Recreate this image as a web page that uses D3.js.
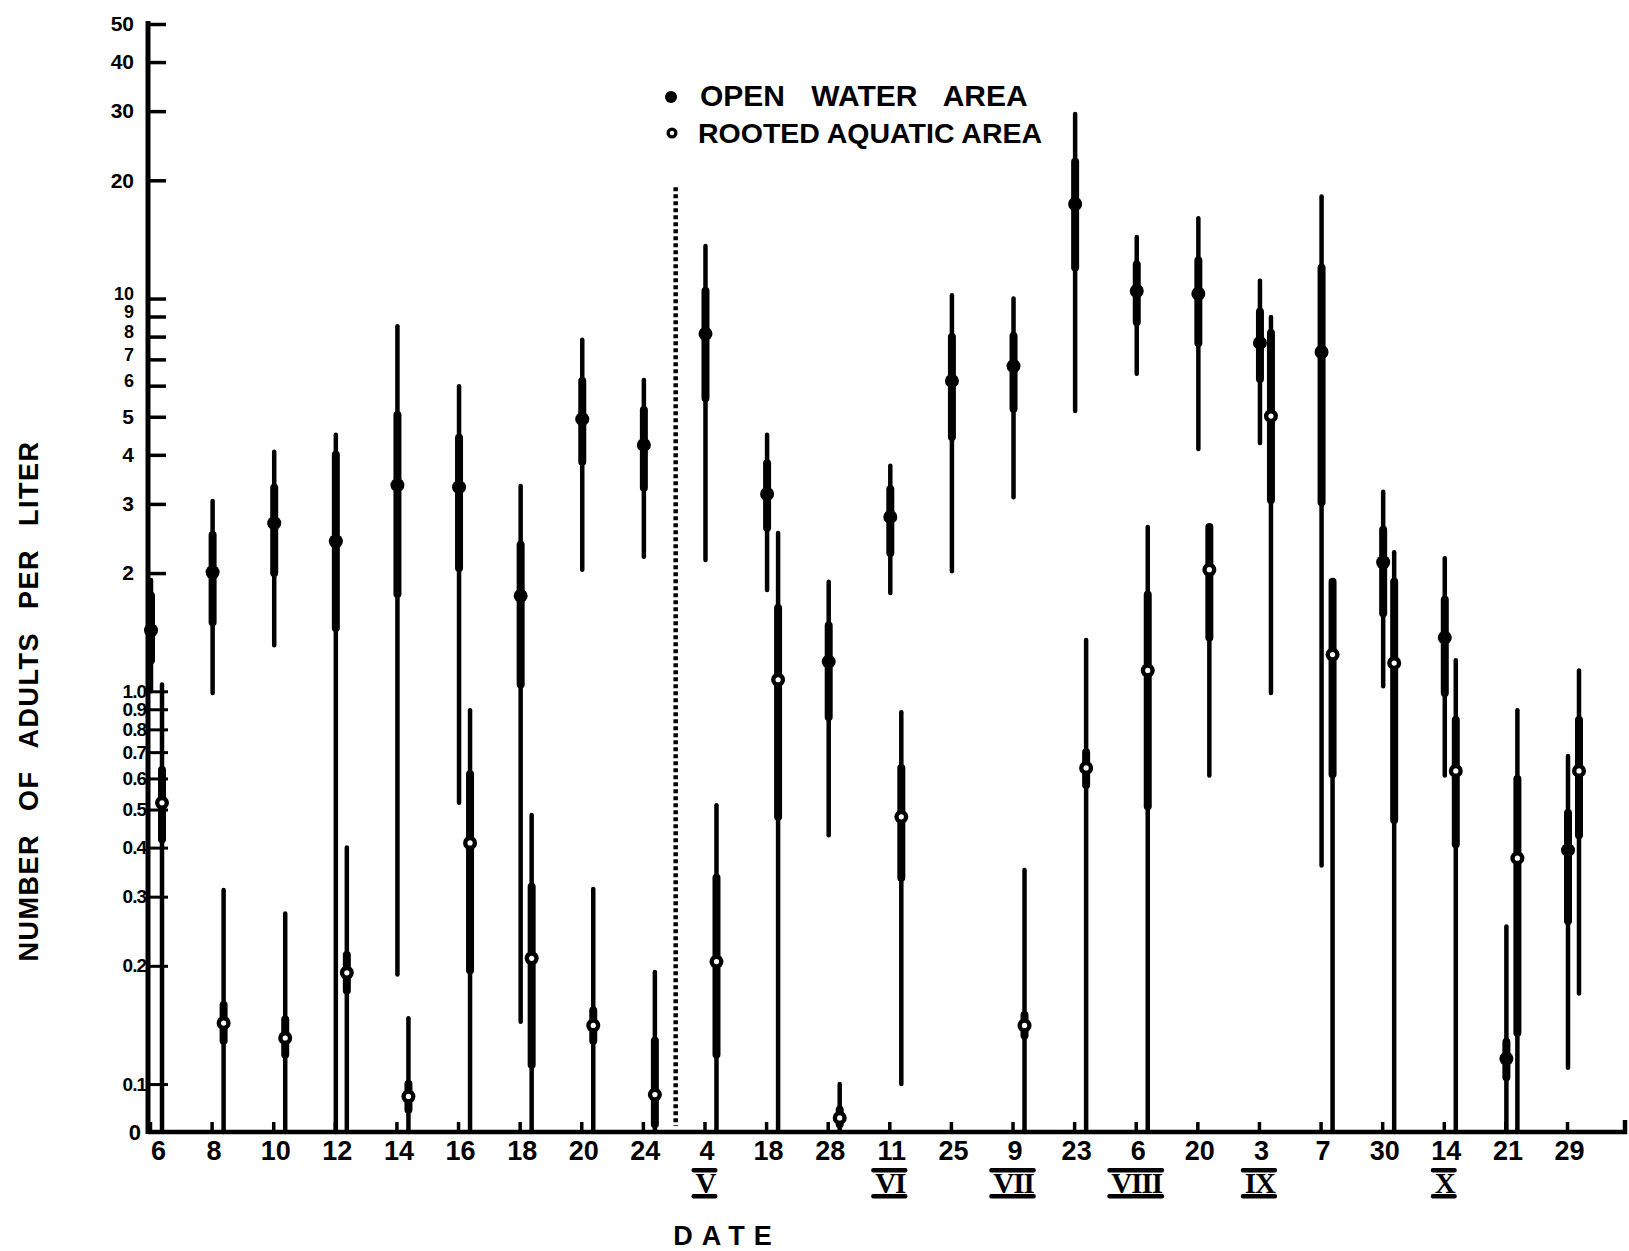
<!DOCTYPE html>
<html>
<head>
<meta charset="utf-8">
<script src="https://cdn.jsdelivr.net/npm/d3@7"></script>
<style>
  body { margin: 0; background: #fff; }
  svg { display: block; font-family: "Liberation Sans", Arial, sans-serif; font-weight: bold; }
</style>
</head>
<body>
<div id="chart"></div>
<script>
// Data
const dates = ['6', '8', '10', '12', '14', '16', '18', '20', '24', '4', '18', '28',
  '11', '25', '9', '23', '6', '20', '3', '7', '30', '14', '21', '29']
const monthLabels = ['V', 'VI', 'VII', 'VIII', 'IX', 'X']
const monthAt = [9, 12, 14, 16, 18, 21] // index of the date the month numeral sits under

// open water area (filled dots): mean, range, inner (heavy) band
const openMean = [1.43, 2.01, 2.68, 2.41, 3.35, 3.31, 1.75, 4.93, 4.24, 8.13, 3.18, 1.19,
  2.78, 6.17, 6.73, 17.4, 10.45, 10.28, 7.71, 7.31, 2.13, 1.37, 0.116, 0.394]
const openLow = [1.0, 0.99, 1.31, 0, 0.19, 0.52, 0.144, 2.04, 2.2, 2.16, 1.81, 0.43,
  1.78, 2.02, 3.12, 5.17, 6.43, 4.14, 4.29, 0.36, 1.03, 0.61, 0, 0.11]
const openHigh = [1.92, 3.05, 4.07, 4.5, 8.5, 5.98, 3.33, 7.85, 6.2, 13.6, 4.5, 1.9,
  3.75, 10.2, 10.0, 29.5, 14.35, 16.0, 11.1, 18.2, 3.22, 2.18, 0.252, 0.684]
const openBandLow = [1.2, 1.5, 2.0, 1.45, 1.77, 2.06, 1.04, 3.84, 3.3, 5.58, 2.61, 0.86,
  2.25, 4.44, 5.24, 12.0, 8.71, 7.71, 6.24, 3.03, 1.58, 0.99, 0.104, 0.26]
const openBandHigh = [1.75, 2.5, 3.3, 4.0, 5.05, 4.42, 2.36, 6.17, 5.2, 10.45, 3.81, 1.47,
  3.27, 7.98, 8.03, 22.3, 12.2, 12.5, 9.25, 11.97, 2.58, 1.71, 0.128, 0.49]

// rooted aquatic area (open dots); 0 = down to the zero line, null = no sample
const rootedMean = [0.52, 0.143, 0.131, 0.192, 0.093, 0.411, 0.209, 0.141, 0.094, 0.205, 1.07, 0.082,
  0.479, null, 0.141, 0.638, 1.13, 2.04, 5.02, 1.24, 1.18, 0.627, 0.376, 0.627]
const rootedLow = [0, 0, 0, 0, 0, 0, 0, 0, 0, 0, 0, 0,
  0.1, null, 0, 0, 0, 0.61, 0.99, 0, 0, 0, 0, 0.17]
const rootedHigh = [1.04, 0.312, 0.272, 0.40, 0.147, 0.895, 0.484, 0.314, 0.193, 0.513, 2.53, 0.1,
  0.885, null, 0.351, 1.35, 2.62, 2.62, 8.98, 1.9, 2.26, 1.2, 0.895, 1.13]
const rootedBandLow = [0.42, 0.129, 0.119, 0.173, 0.086, 0.195, 0.112, 0.129, 0.079, 0.119, 0.479, 0.079,
  0.335, null, 0.133, 0.577, 0.51, 1.37, 3.07, 0.615, 0.47, 0.408, 0.135, 0.43]
const rootedBandHigh = [0.63, 0.159, 0.146, 0.213, 0.1, 0.615, 0.318, 0.154, 0.129, 0.335, 1.63, 0.086,
  0.638, null, 0.15, 0.70, 1.76, 2.62, 8.17, 1.9, 1.9, 0.845, 0.598, 0.845]

const upperTicks = [2, 3, 4, 5, 6, 7, 8, 9, 10, 20, 30, 40, 50]
const lowerTicks = [0.1, 0.2, 0.3, 0.4, 0.5, 0.6, 0.7, 0.8, 0.9, 1.0]
const zeroLine = 0.0755 // log value that the "0" baseline stands for
const dividerTop = 19.2 // top of the dotted line between April and May

function draw() {
  let dimensions = {
    width: 1629,
    height: 1251,
    left: 148,
    right: 1625,
    top: 24,
    bottom: 1132,
    firstDate: 150,
    lastDate: 1567,
  }

  const svg = d3.select('#chart')
    .append('svg')
    .attr('width', dimensions.width)
    .attr('height', dimensions.height)

  // Scales
  const y = d3.scaleLog()
    .domain([zeroLine, 50])
    .range([dimensions.bottom, dimensions.top])
  const yv = v => y(v > 0 ? v : zeroLine)

  const x = d3.scalePoint()
    .domain(d3.range(dates.length))
    .range([dimensions.firstDate, dimensions.lastDate])

  // Y axis: upper cycle
  const upperAxis = d3.axisLeft(y)
    .tickValues(upperTicks)
    .tickSizeInner(-18)
    .tickSizeOuter(0)
    .tickPadding(14)
    .tickFormat(d3.format('d'))

  const yAxisG = svg.append('g')
    .attr('transform', `translate(${dimensions.left}, 0)`)
    .call(upperAxis)
  yAxisG.select('.domain').remove()
  yAxisG.selectAll('line').attr('stroke', '#000').attr('stroke-width', 3.5)
  yAxisG.selectAll('text')
    .attr('fill', '#000')
    .attr('dy', d => d >= 6 && d <= 10 ? '0.05em' : '0.32em')
    .style('font-size', d => d >= 6 && d <= 10 ? '18px' : '21px')

  // Y axis: lower cycle with the zero line
  const lowerAxis = d3.axisLeft(y)
    .tickValues([zeroLine, ...lowerTicks])
    .tickSizeInner(-20)
    .tickSizeOuter(0)
    .tickPadding(2)
    .tickFormat(d => d === zeroLine ? '0' : d3.format('.1f')(d))

  const lowG = svg.append('g')
    .attr('transform', `translate(${dimensions.left}, 0)`)
    .call(lowerAxis)
  lowG.select('.domain').remove()
  lowG.selectAll('line').attr('stroke', '#000').attr('stroke-width', 3)
  lowG.selectAll('text')
    .attr('fill', '#000')
    .style('font-size', '19px')
    .style('letter-spacing', '-1px')
  lowG.selectAll('.tick')
    .filter(d => d === zeroLine)
    .select('text')
    .attr('x', -8)
    .style('font-size', '22px')

  svg.append('line')
    .attr('x1', dimensions.left).attr('x2', dimensions.left)
    .attr('y1', dimensions.top - 3).attr('y2', dimensions.bottom + 2)
    .attr('stroke', '#000')
    .attr('stroke-width', 5)

  // X axis
  const xAxis = d3.axisBottom(x)
    .tickSizeInner(-10)
    .tickSizeOuter(0)
    .tickPadding(9)
    .tickFormat(i => dates[i])

  const xAxisG = svg.append('g')
    .attr('transform', `translate(0, ${dimensions.bottom})`)
    .call(xAxis)
  xAxisG.select('.domain').remove()
  xAxisG.selectAll('line').attr('stroke', '#000').attr('stroke-width', 3.5)
  xAxisG.selectAll('text')
    .attr('fill', '#000')
    .attr('dx', (d, i) => i === 0 ? 8 : 2)
    .style('font-size', '27px')

  svg.append('path')
    .attr('d', `M${dimensions.left},${dimensions.bottom}H${dimensions.right}v-12`)
    .attr('fill', 'none')
    .attr('stroke', '#000')
    .attr('stroke-width', 4.5)

  // Month numerals with bars above and below
  const months = svg.append('g')
  monthLabels.forEach((m, k) => {
    const cx = x(monthAt[k]) + 1
    const t = months.append('text')
      .attr('x', cx)
      .attr('y', 1193)
      .attr('text-anchor', 'middle')
      .style('font-family', '"Liberation Serif", serif')
      .style('font-size', '29px')
      .style('font-weight', 'bold')
      .style('letter-spacing', '-1px')
      .text(m)
    const w = t.node().getComputedTextLength()
    ;[1168, 1194].forEach(by => {
      months.append('rect')
        .attr('x', cx - w / 2 - 4)
        .attr('y', by)
        .attr('width', w + 6)
        .attr('height', 4.5)
        .attr('rx', 2)
        .attr('fill', '#000')
    })
  })

  // Dotted divider
  const divX = (x(8) + x(9)) / 2 + 2
  svg.append('line')
    .attr('x1', divX).attr('x2', divX)
    .attr('y1', yv(dividerTop)).attr('y2', yv(0) - 6)
    .attr('stroke', '#000')
    .attr('stroke-width', 4.5)
    .attr('stroke-dasharray', '4,3')

  // Series
  const series = [
    { mean: openMean, low: openLow, high: openHigh, bLow: openBandLow, bHigh: openBandHigh, dx: 1, open: false },
    { mean: rootedMean, low: rootedLow, high: rootedHigh, bLow: rootedBandLow, bHigh: rootedBandHigh, dx: 12, open: true },
  ]

  series.forEach(s => {
    const rows = dates.map((d, i) => ({
      i, mean: s.mean[i], low: s.low[i], high: s.high[i], bLow: s.bLow[i], bHigh: s.bHigh[i],
    })).filter(r => r.mean !== null)

    const g = svg.append('g')
    const px = r => x(r.i) + s.dx

    g.selectAll('.range')
      .data(rows)
      .join('line')
      .attr('x1', px).attr('x2', px)
      .attr('y1', r => yv(r.high))
      .attr('y2', r => yv(r.low))
      .attr('stroke', '#000')
      .attr('stroke-width', 4.5)
      .attr('stroke-linecap', 'round')

    g.selectAll('.band')
      .data(rows)
      .join('line')
      .attr('x1', px).attr('x2', px)
      .attr('y1', r => yv(r.bHigh))
      .attr('y2', r => yv(r.bLow))
      .attr('stroke', '#000')
      .attr('stroke-width', 8)
      .attr('stroke-linecap', 'round')

    g.selectAll('.dot')
      .data(rows)
      .join('circle')
      .attr('cx', px)
      .attr('cy', r => yv(r.mean))
      .attr('r', 7)
      .attr('fill', '#000')

    if (s.open) {
      g.selectAll('.hole')
        .data(rows)
        .join('circle')
        .attr('cx', px)
        .attr('cy', r => yv(r.mean))
        .attr('r', 2.6)
        .attr('fill', '#fff')
    }
  })

  // Legend
  const legend = svg.append('g')
  legend.append('circle').attr('cx', 671).attr('cy', 97).attr('r', 6).attr('fill', '#000')
  legend.append('circle').attr('cx', 672).attr('cy', 133).attr('r', 5.5).attr('fill', '#000')
  legend.append('circle').attr('cx', 672).attr('cy', 133).attr('r', 2.2).attr('fill', '#fff')
  legend.append('text')
    .attr('x', 700).attr('y', 106)
    .style('font-size', '30px')
    .style('word-spacing', '18px')
    .text('OPEN WATER AREA')
  legend.append('text')
    .attr('x', 698).attr('y', 143)
    .style('font-size', '28.5px')
    .text('ROOTED AQUATIC AREA')

  // Axis titles
  svg.append('text')
    .attr('transform', `translate(38, 701) rotate(-90)`)
    .attr('text-anchor', 'middle')
    .style('font-size', '27px')
    .style('letter-spacing', '1.5px')
    .style('word-spacing', '14px')
    .text('NUMBER OF ADULTS PER LITER')

  svg.append('text')
    .attr('x', 727).attr('y', 1245)
    .attr('text-anchor', 'middle')
    .style('font-size', '27px')
    .style('letter-spacing', '9px')
    .text('DATE')
}

draw()
</script>
</body>
</html>
